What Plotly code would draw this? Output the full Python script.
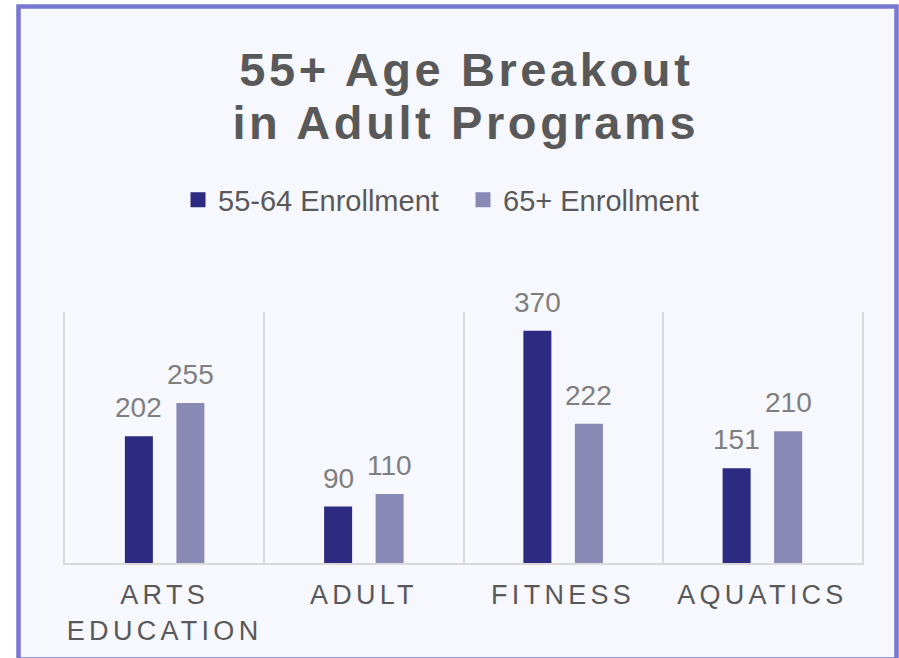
import plotly.graph_objects as go

# ---- data ----
categories = ["ARTS<br>EDUCATION", "ADULT", "FITNESS", "AQUATICS"]
enroll_55_64 = [202, 90, 370, 151]
enroll_65_plus = [255, 110, 222, 210]
series_names = ["55-64 Enrollment", "65+ Enrollment"]
title_lines = ["55+ Age Breakout", "in Adult Programs"]

# ---- layout constants ----
W, H = 899, 658
L, R, T, B = 65, 37, 312, 95
PW, PH = W - L - R, H - T - B
BARGAP, BARGROUPGAP = 0.483, 0.456
YMAX = 400
FONT = "Liberation Sans, Arial, sans-serif"
TEXT_DARK = "#595959"
TEXT_LABEL = "#7F7F7F"
COL_DARK = "#2D2A82"
COL_LIGHT = "#8989B6"
BG = "#F7F7FE"
BORDER = "#7877D2"
GRID = "#D9D9D9"


def px_x(px):
    return (px - L) / PW


def px_y(py):
    return (H - B - py) / PH


fig = go.Figure()
series = [enroll_55_64, enroll_65_plus]
colors = [COL_DARK, COL_LIGHT]
for name, vals, col in zip(series_names, series, colors):
    fig.add_trace(go.Bar(x=categories, y=vals, name=name,
                         marker=dict(color=col, line=dict(width=0)),
                         showlegend=False, hoverinfo="skip"))
# legend entries with square swatches
for name, col in zip(series_names, colors):
    fig.add_trace(go.Scatter(x=[None], y=[None], mode="markers", name=name,
                             marker=dict(symbol="square", size=15, color=col),
                             showlegend=True, hoverinfo="skip"))

# data labels above bars, aligned with grouped bar slots
slot = PW / len(categories) * (1 - BARGAP) / 2
annotations = []
for k, line in enumerate(title_lines):
    annotations.append(dict(
        text=line, xref="paper", yref="paper",
        x=px_x(466), y=px_y([69, 122][k]), xanchor="center", yanchor="middle",
        showarrow=False,
        font=dict(family=FONT, size=47, color=TEXT_DARK, weight="bold")))
for s, vals in enumerate(series):
    shift = (-1 if s == 0 else 1) * slot / 2
    for c, v in zip(categories, vals):
        annotations.append(dict(
            text=str(v), x=c, y=v, xref="x", yref="y",
            xshift=shift, yshift=11, yanchor="bottom", xanchor="center",
            showarrow=False,
            font=dict(family=FONT, size=28, color=TEXT_LABEL)))

fig.update_layout(
    width=W, height=H,
    margin=dict(l=L, r=R, t=T, b=B, pad=0),
    paper_bgcolor="white", plot_bgcolor="rgba(0,0,0,0)",
    barmode="group", bargap=BARGAP, bargroupgap=BARGROUPGAP,
    font=dict(family=FONT, color=TEXT_DARK),
    hovermode=False,
    showlegend=True,
    legend=dict(orientation="h", x=px_x(463), xanchor="center",
                y=px_y(200), yanchor="middle",
                font=dict(family=FONT, size=29, color=TEXT_DARK),
                bgcolor="rgba(0,0,0,0)", itemwidth=30,
                entrywidth=240, entrywidthmode="pixels"),
    annotations=annotations,
    shapes=[dict(type="rect", xref="paper", yref="paper",
                 x0=px_x(18.5), x1=px_x(896.5), y0=px_y(659.5), y1=px_y(6.5),
                 fillcolor=BG, line=dict(color=BORDER, width=4.5),
                 layer="below")],
)
fig.update_xaxes(type="category", tickson="boundaries", showgrid=True,
                 gridcolor=GRID, gridwidth=1.5, showline=True, linecolor=GRID,
                 linewidth=2, ticks="", ticklabelstandoff=7,
                 tickfont=dict(family=FONT, size=27, color=TEXT_DARK),
                 zeroline=False)
fig.update_yaxes(range=[0, YMAX], showgrid=False, showticklabels=False,
                 zeroline=False, showline=True, mirror=True, linecolor=GRID,
                 linewidth=1.5, ticks="")

post = """
document.body.style.margin = '0';
document.body.style.overflow = 'hidden';
var gd = document.getElementById('{plot_id}');
function sp(){
  gd.querySelectorAll('.xtick text').forEach(function(t){t.style.letterSpacing='4.3px';});
  gd.querySelectorAll('.annotation[data-index="0"] text, .annotation[data-index="1"] text').forEach(function(t){t.style.letterSpacing='3.6px';});
}
sp();
if (gd.on) { gd.on('plotly_afterplot', sp); }
"""
fig.write_html("out.html", post_script=post, config={"displayModeBar": False})
